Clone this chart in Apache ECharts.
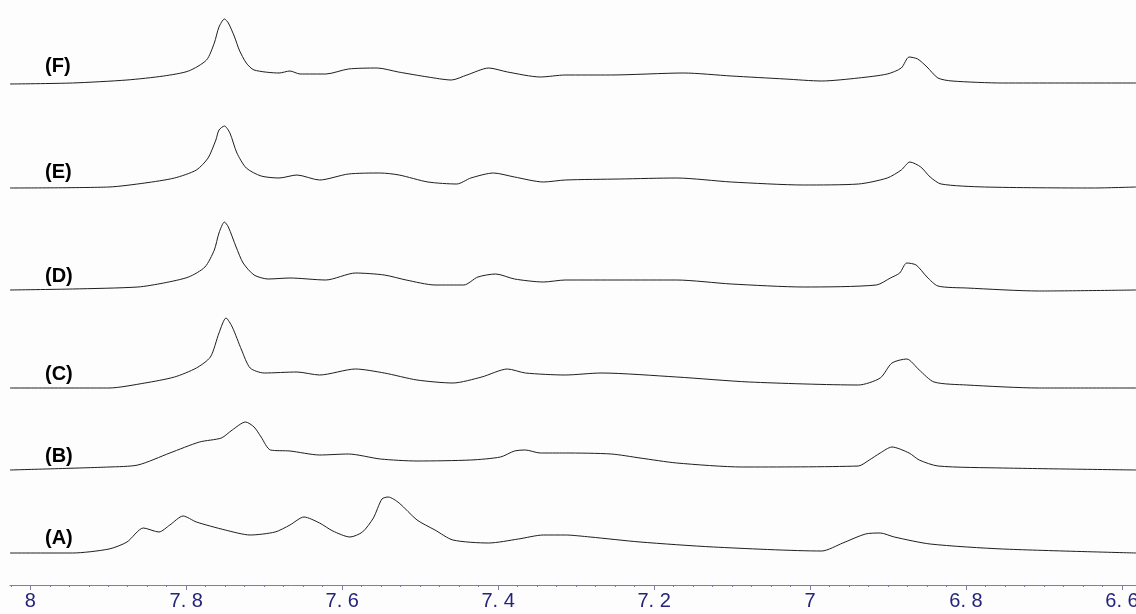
<!DOCTYPE html>
<html>
<head>
<meta charset="utf-8">
<script src="https://cdn.jsdelivr.net/npm/echarts@6/dist/echarts.min.js"></script>
<style>
html,body{margin:0;padding:0;background:#fdfdfd;}
#chart{width:1136px;height:614px;}
</style>
</head>
<body>
<div id="chart"></div>
<script>
// chemical shift (ppm) tick labels
var majorTicks = [8, 7.8, 7.6, 7.4, 7.2, 7, 6.8, 6.6];
var traceNames = ['(F)', '(E)', '(D)', '(C)', '(B)', '(A)'];

// [ppm, intensity]
var traceF = [[8.026,-1],[7.946,0],[7.876,3],[7.829,7],[7.797,12],[7.774,23],[7.764,40],[7.758,56],[7.751,64],[7.746,60],[7.738,46],[7.732,33],[7.723,20],[7.713,13],[7.681,10],[7.667,12],[7.654,9],[7.621,9],[7.592,14],[7.555,15],[7.528,11],[7.490,6],[7.460,3],[7.440,8],[7.412,15],[7.388,11],[7.346,6],[7.314,8],[7.256,8],[7.162,10],[7.101,7],[7.032,4],[6.985,2],[6.938,5],[6.901,9],[6.883,15],[6.873,26],[6.862,24],[6.850,16],[6.836,5],[6.818,2],[6.753,0],[6.679,0],[6.582,0]];
var traceE = [[8.026,0],[7.899,1],[7.853,5],[7.815,10],[7.787,18],[7.772,30],[7.762,48],[7.758,58],[7.751,62],[7.744,55],[7.735,35],[7.723,20],[7.704,12],[7.681,10],[7.658,13],[7.629,8],[7.592,14],[7.551,15],[7.527,13],[7.490,6],[7.453,4],[7.435,10],[7.406,15],[7.379,11],[7.342,6],[7.314,8],[7.244,9],[7.171,10],[7.101,6],[7.008,3],[6.938,4],[6.901,10],[6.883,18],[6.872,26],[6.858,21],[6.846,11],[6.832,4],[6.776,1],[6.637,0],[6.582,1]];
var traceD = [[8.026,0],[7.946,1],[7.862,3],[7.829,7],[7.797,13],[7.776,23],[7.764,40],[7.758,57],[7.751,68],[7.746,63],[7.736,43],[7.727,27],[7.713,15],[7.695,11],[7.667,12],[7.621,10],[7.583,17],[7.546,15],[7.518,10],[7.481,5],[7.444,5],[7.426,13],[7.403,16],[7.379,11],[7.342,8],[7.314,10],[7.244,10],[7.171,10],[7.101,6],[7.008,3],[6.915,5],[6.897,12],[6.885,17],[6.876,27],[6.864,25],[6.850,13],[6.836,4],[6.799,2],[6.706,-1],[6.582,0]];
var traceC = [[8.026,0],[7.899,0],[7.853,5],[7.815,11],[7.787,20],[7.769,31],[7.758,55],[7.749,70],[7.741,61],[7.729,38],[7.718,20],[7.700,15],[7.658,16],[7.629,13],[7.583,19],[7.546,15],[7.504,8],[7.458,5],[7.421,11],[7.388,19],[7.365,15],[7.314,13],[7.268,15],[7.171,11],[7.078,6],[6.938,3],[6.910,10],[6.895,25],[6.876,29],[6.860,18],[6.841,6],[6.799,3],[6.706,0],[6.582,0]];
var traceB = [[8.026,-1],[7.899,2],[7.862,4],[7.821,16],[7.783,27],[7.755,31],[7.741,39],[7.724,47],[7.713,42],[7.704,32],[7.692,19],[7.667,18],[7.629,14],[7.592,15],[7.551,10],[7.504,8],[7.435,9],[7.397,12],[7.379,18],[7.365,19],[7.346,16],[7.314,16],[7.255,15],[7.218,11],[7.171,6],[7.087,2],[6.938,3],[6.924,9],[6.910,16],[6.895,22],[6.873,16],[6.860,9],[6.836,3],[6.753,1],[6.582,-1]];
var traceA = [[8.026,0],[7.946,0],[7.899,4],[7.876,11],[7.855,25],[7.835,21],[7.821,28],[7.804,37],[7.787,31],[7.750,23],[7.718,18],[7.686,21],[7.667,28],[7.649,36],[7.629,30],[7.612,22],[7.590,16],[7.574,21],[7.560,35],[7.549,54],[7.541,56],[7.527,50],[7.504,33],[7.481,23],[7.458,13],[7.412,10],[7.374,14],[7.342,18],[7.314,18],[7.282,16],[7.218,11],[7.124,6],[6.985,2],[6.958,10],[6.929,19],[6.910,20],[6.892,16],[6.846,9],[6.753,4],[6.582,0]];

var traces = [traceF, traceE, traceD, traceC, traceB, traceA];
var baselines = [83, 188, 290, 388, 469, 553]; // pixel row of each trace's zero line
var labelTops = [56, 162, 266, 364, 446, 528];

var X_MIN = 6.582, X_MAX = 8.026;
var Y_MIN = -5, Y_MAX = 75;
var AXIS_Y = 585;
var minorTicks = [];
for (var i = -1; i <= 56; i++) { minorTicks.push(Math.round((8 - i * 0.025) * 1000) / 1000); }

var grids = [], xAxes = [], yAxes = [], series = [], graphics = [];
function addGrid(top) {
  grids.push({left: 10, right: 0, top: top, height: Y_MAX - Y_MIN, containLabel: false, outerBoundsMode: 'none'});
}
traces.forEach(function (data, k) {
  addGrid(baselines[k] - Y_MAX);
  var last = k === traces.length - 1;
  xAxes.push({
    type: 'value', gridIndex: k, inverse: true, min: X_MIN, max: X_MAX,
    show: last, position: 'bottom', offset: last ? AXIS_Y - (baselines[k] - Y_MIN) : 0,
    axisLine: {show: true, onZero: false, lineStyle: {color: '#7c7cae', width: 1}},
    axisTick: {show: true, length: 5, inside: false, customValues: majorTicks, lineStyle: {color: '#7c7cae'}},
    axisLabel: {show: true, customValues: majorTicks, margin: 6, color: '#24247c',
      fontFamily: 'Liberation Sans', fontSize: 20, hideOverlap: false,
      formatter: function (v) { return String(Math.round(v * 10) / 10).replace('.', '. '); }},
    splitLine: {show: false}
  });
  yAxes.push({type: 'value', gridIndex: k, min: Y_MIN, max: Y_MAX, show: false});
  series.push({
    type: 'line', xAxisIndex: k, yAxisIndex: k, data: data, showSymbol: false,
    smooth: 0.25, silent: true, animation: false,
    lineStyle: {color: '#1e1e1e', width: 1}
  });
  graphics.push({type: 'text', left: 45, top: labelTops[k],
    style: {text: traceNames[k], font: 'bold 20px "Liberation Sans"', fill: '#000'}});
});

// minor tick axis (bottom)
addGrid(baselines[5] - Y_MAX);
xAxes.push({
  type: 'value', gridIndex: 6, inverse: true, min: X_MIN, max: X_MAX, position: 'bottom',
  offset: AXIS_Y - (baselines[5] - Y_MIN),
  axisLine: {show: false, onZero: false},
  axisTick: {show: true, length: 2, customValues: minorTicks, lineStyle: {color: '#7c7cae'}},
  axisLabel: {show: false}, splitLine: {show: false}
});
yAxes.push({type: 'value', gridIndex: 6, min: Y_MIN, max: Y_MAX, show: false});

var chart = echarts.init(document.getElementById('chart'), null, {renderer: 'canvas'});
chart.setOption({
  backgroundColor: '#fdfdfd',
  animation: false,
  grid: grids, xAxis: xAxes, yAxis: yAxes, series: series, graphic: graphics
});
</script>
</body>
</html>
